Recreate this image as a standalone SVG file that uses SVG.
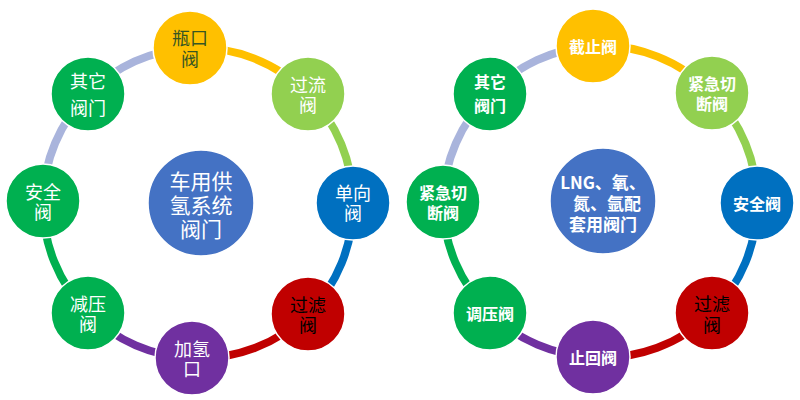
<svg xmlns="http://www.w3.org/2000/svg" width="800" height="400" viewBox="0 0 800 400">
<style>
.arc{fill:none;stroke-width:8;}
.n{stroke:#ffffff;stroke-width:1.5;}
.t{font-family:"Noto Sans CJK SC","Noto Sans",sans-serif;fill:#ffffff;text-anchor:middle;dominant-baseline:central;}
.l{font-size:18px;}
.r{font-size:16px;font-weight:bold;}
.c{font-size:21px;}
.cr{font-size:17px;font-weight:bold;}
.dk{fill:#375623;}
.bk{fill:#000000;}
</style>
<rect width="800" height="400" fill="#ffffff"/>
<g id="connectors">
<path class="arc" stroke="#A9B4DC" d="M88 94 A155 155 0 0 1 190 48"/>
<path class="arc" stroke="#FFC000" d="M190 48 A155 155 0 0 1 308 94"/>
<path class="arc" stroke="#92D050" d="M308 94 A155 155 0 0 1 353 203"/>
<path class="arc" stroke="#0070C0" d="M353 203 A155 155 0 0 1 308 314"/>
<path class="arc" stroke="#C00000" d="M308 314 A155 155 0 0 1 192 358"/>
<path class="arc" stroke="#7030A0" d="M192 358 A155 155 0 0 1 88 313"/>
<path class="arc" stroke="#00B050" d="M88 313 A155 155 0 0 1 43 201"/>
<path class="arc" stroke="#A9B4DC" d="M43 201 A155 155 0 0 1 88 94"/>
<path class="arc" stroke="#A9B4DC" d="M490 94 A155 155 0 0 1 593 46"/>
<path class="arc" stroke="#FFC000" d="M593 46 A155 155 0 0 1 712 93"/>
<path class="arc" stroke="#92D050" d="M712 93 A155 155 0 0 1 757 203"/>
<path class="arc" stroke="#0070C0" d="M757 203 A155 155 0 0 1 712 313"/>
<path class="arc" stroke="#C00000" d="M712 313 A155 155 0 0 1 593 357"/>
<path class="arc" stroke="#7030A0" d="M593 357 A155 155 0 0 1 490 313"/>
<path class="arc" stroke="#00B050" d="M490 313 A155 155 0 0 1 443 202"/>
<path class="arc" stroke="#A9B4DC" d="M443 202 A155 155 0 0 1 490 94"/>
</g>
<g id="left-center">
<circle class="n" cx="201" cy="203" r="53" fill="#4472C4"/>
<text class="t c"><tspan x="201" y="180">车用供</tspan><tspan x="201" y="204">氢系统</tspan><tspan x="201" y="228">阀门</tspan></text>
</g>
<g id="left-pingkou">
<circle class="n" cx="190" cy="48" r="37" fill="#FFC000"/>
<text class="t l dk"><tspan x="190" y="37">瓶口</tspan><tspan x="190" y="58">阀</tspan></text>
</g>
<g id="left-guoliu">
<circle class="n" cx="308" cy="94" r="37" fill="#92D050"/>
<text class="t l"><tspan x="308" y="84">过流</tspan><tspan x="308" y="104">阀</tspan></text>
</g>
<g id="left-danxiang">
<circle class="n" cx="353" cy="203" r="37" fill="#0070C0"/>
<text class="t l"><tspan x="353" y="192">单向</tspan><tspan x="353" y="212">阀</tspan></text>
</g>
<g id="left-guolv">
<circle class="n" cx="308" cy="314" r="37" fill="#C00000"/>
<text class="t l bk"><tspan x="308" y="304">过滤</tspan><tspan x="308" y="324">阀</tspan></text>
</g>
<g id="left-jiaqing">
<circle class="n" cx="192" cy="358" r="37" fill="#7030A0"/>
<text class="t l"><tspan x="192" y="348">加氢</tspan><tspan x="192" y="368">口</tspan></text>
</g>
<g id="left-jianya">
<circle class="n" cx="88" cy="313" r="37" fill="#00B050"/>
<text class="t l"><tspan x="88" y="303">减压</tspan><tspan x="88" y="323">阀</tspan></text>
</g>
<g id="left-anquan">
<circle class="n" cx="43" cy="201" r="37" fill="#00B050"/>
<text class="t l"><tspan x="43" y="191">安全</tspan><tspan x="43" y="211">阀</tspan></text>
</g>
<g id="left-qita">
<circle class="n" cx="88" cy="94" r="37" fill="#00B050"/>
<text class="t l"><tspan x="88" y="80">其它</tspan><tspan x="88" y="107">阀门</tspan></text>
</g>
<g id="right-center">
<circle class="n" cx="603" cy="201" r="53" fill="#4472C4"/>
<text class="t cr"><tspan x="603" y="181">LNG、氧、</tspan><tspan x="607" y="202">氮、氩配</tspan><tspan x="603" y="223">套用阀门</tspan></text>
</g>
<g id="right-jiezhi">
<circle class="n" cx="593" cy="46" r="37" fill="#FFC000"/>
<text class="t r" x="593" y="46">截止阀</text>
</g>
<g id="right-jinji1">
<circle class="n" cx="712" cy="93" r="37" fill="#92D050"/>
<text class="t r"><tspan x="712" y="83">紧急切</tspan><tspan x="712" y="103">断阀</tspan></text>
</g>
<g id="right-anquan">
<circle class="n" cx="757" cy="203" r="37" fill="#0070C0"/>
<text class="t r" x="757" y="203">安全阀</text>
</g>
<g id="right-guolv">
<circle class="n" cx="712" cy="313" r="37" fill="#C00000"/>
<text class="t l bk"><tspan x="712" y="303">过滤</tspan><tspan x="712" y="324">阀</tspan></text>
</g>
<g id="right-zhihui">
<circle class="n" cx="593" cy="357" r="37" fill="#7030A0"/>
<text class="t r" x="593" y="357">止回阀</text>
</g>
<g id="right-tiaoya">
<circle class="n" cx="490" cy="313" r="37" fill="#00B050"/>
<text class="t r" x="490" y="313">调压阀</text>
</g>
<g id="right-jinji2">
<circle class="n" cx="443" cy="202" r="37" fill="#00B050"/>
<text class="t r"><tspan x="443" y="192">紧急切</tspan><tspan x="443" y="212">断阀</tspan></text>
</g>
<g id="right-qita">
<circle class="n" cx="490" cy="94" r="37" fill="#00B050"/>
<text class="t r"><tspan x="490" y="81">其它</tspan><tspan x="490" y="105">阀门</tspan></text>
</g>
</svg>
